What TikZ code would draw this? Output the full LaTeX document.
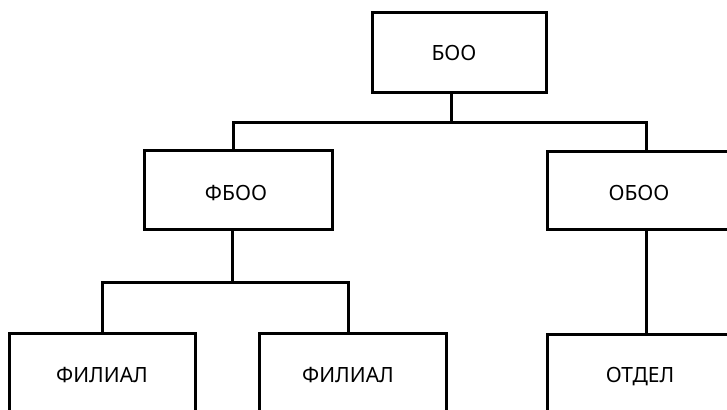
\documentclass[tikz,border=0pt]{standalone}
\usepackage{fontspec}
\setmainfont{Noto Sans}
\begin{document}
\begin{tikzpicture}[x=1pt,y=-1pt,
  box/.style={draw=black,line width=3pt,fill=white,inner sep=0pt},
  lbl/.style={font=\fontsize{21}{25}\selectfont,inner sep=0pt,anchor=base},
  link/.style={draw=black,line width=3pt}]
\useasboundingbox (0,0) rectangle (727,409);
\clip (0,0) rectangle (727,409);
\fill[white] (0,0) rectangle (727,409);
% boxes
\node[box,minimum width=174pt,minimum height=80pt] (boo)   at (459,53)  {};
\node[box,minimum width=188pt,minimum height=79pt] (fboo)  at (238,189.5) {};
\node[box,minimum width=188pt,minimum height=78pt] (oboo)  at (641,190) {};
\node[box,minimum width=186pt,minimum height=80pt] (fil1)  at (102,373) {};
\node[box,minimum width=187pt,minimum height=80pt] (fil2)  at (352.5,373) {};
\node[box,minimum width=188pt,minimum height=80pt] (otdel) at (641,374) {};
% labels
\node[lbl] (tboo)   at (454,61)  {БОО};
\node[lbl] (tfboo)  at (236,200) {ФБОО};
\node[lbl] (toboo)  at (639,200) {ОБОО};
\node[lbl] (tfil1)  at (102,382) {ФИЛИАЛ};
\node[lbl] (tfil2)  at (348,382) {ФИЛИАЛ};
\node[lbl] (totdel) at (640,382) {ОТДЕЛ};
% junction points
\coordinate (j0) at (451,122);
\coordinate (a1) at (233,122);
\coordinate (a2) at (646,122);
\coordinate (j1) at (232,282);
\coordinate (b1) at (102,282);
\coordinate (b2) at (348,282);
% connectors
\draw[link] (boo.south -| j0) -- (j0);
\draw[link] (fboo.north -| a1) -- (a1) -- (a2) -- (oboo.north -| a2);
\draw[link] (fboo.south -| j1) -- (j1);
\draw[link] (fil1.north -| b1) -- (b1) -- (b2) -- (fil2.north -| b2);
\draw[link] (oboo.south -| a2) -- (otdel.north -| a2);
\end{tikzpicture}
\end{document}
